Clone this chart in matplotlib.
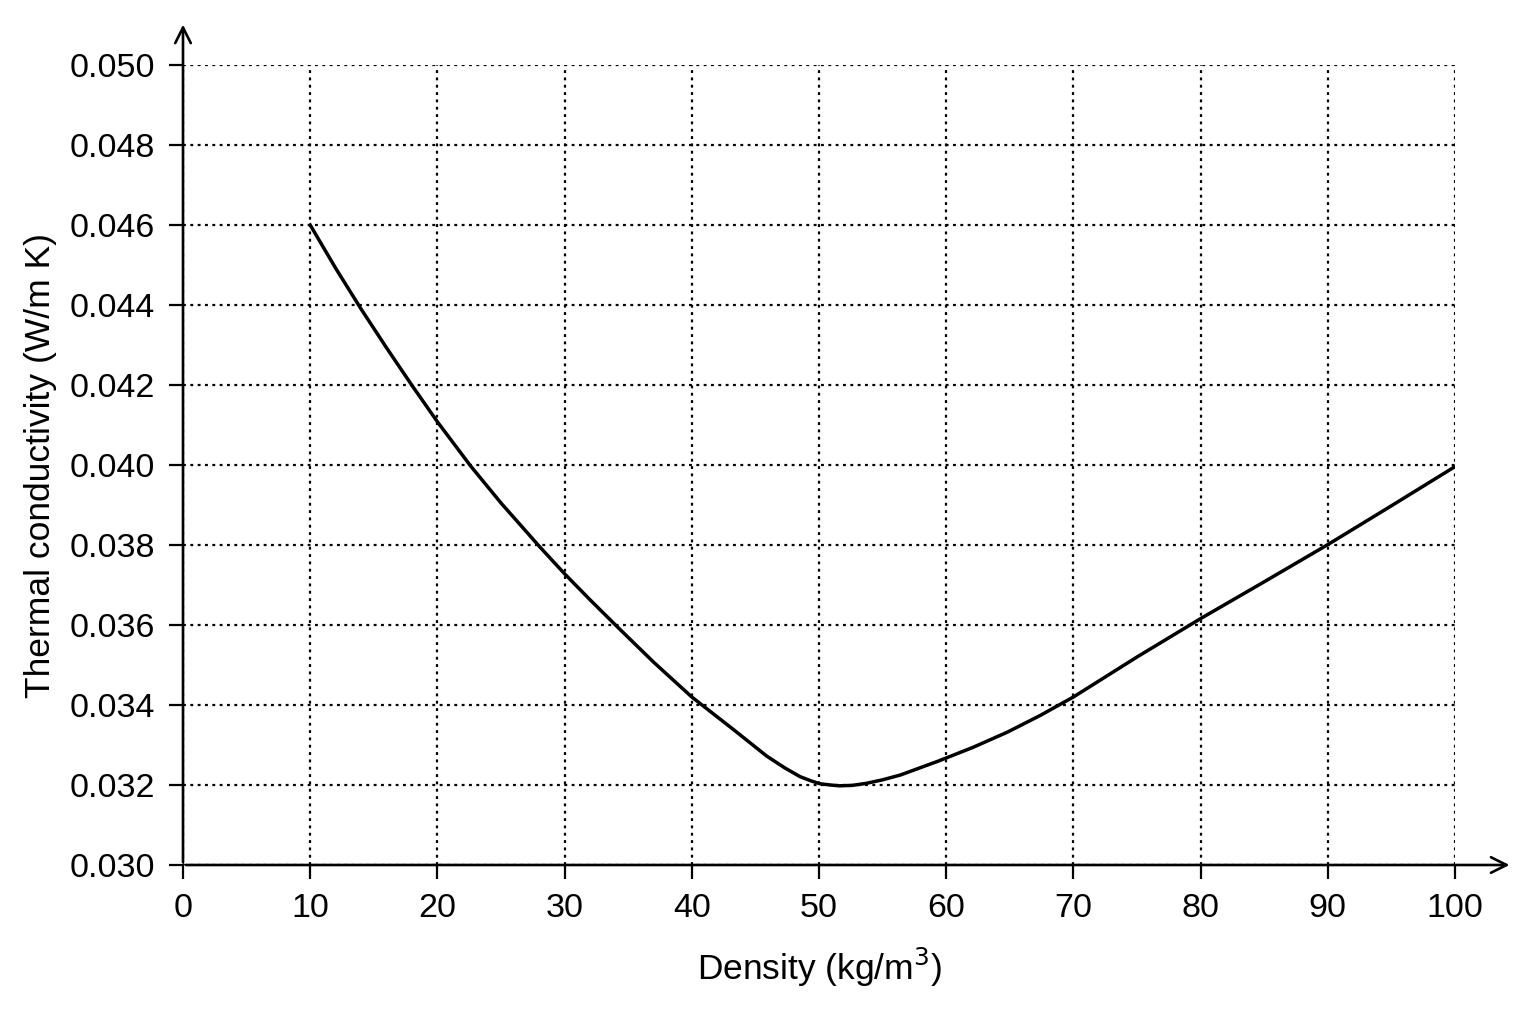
import matplotlib
matplotlib.use("Agg")
import matplotlib.pyplot as plt
from matplotlib import font_manager

# density (kg/m3) vs thermal conductivity (W/m K)
density = [10, 12, 14, 16, 18, 20, 22.6, 25, 28, 30, 32, 34, 37, 40, 43.3, 45.9, 47.3, 48.5, 49.4, 50.1,
           50.9, 51.6, 52.6, 53.7, 55, 56.4, 59.4, 62.1, 64.8, 67.4, 70, 75, 80, 85, 90, 95, 100]
conductivity = [0.04600, 0.04492, 0.04390, 0.04293, 0.04199, 0.04108, 0.03998, 0.03905, 0.03797, 0.03728,
                0.03663, 0.03600, 0.03507, 0.03420, 0.03338, 0.03272, 0.03243, 0.03221, 0.03210, 0.03203,
                0.03200, 0.03198, 0.03199, 0.03204, 0.03213, 0.03225, 0.03260, 0.03294, 0.03332, 0.03374,
                0.03420, 0.03520, 0.03616, 0.03708, 0.03801, 0.03898, 0.03996]
xticks = list(range(0, 101, 10))
yticks = [0.030, 0.032, 0.034, 0.036, 0.038, 0.040, 0.042, 0.044, 0.046, 0.048, 0.050]

names = {f.name for f in font_manager.fontManager.ttflist}
fam = "Liberation Sans Narrow" if "Liberation Sans Narrow" in names else "Liberation Sans"
plt.rcParams["font.family"] = [fam, "DejaVu Sans"]

W, H = 1536, 1024
fig = plt.figure(figsize=(W / 100, H / 100), dpi=100)
x0, x1, y0, y1 = 183, 1455, 865, 65
ax = fig.add_axes([x0 / W, (H - y0) / H, (x1 - x0) / W, (y0 - y1) / H])

ax.plot(density, conductivity, color="black", lw=2.5, solid_joinstyle="round")
ax.set_xlim(0, 100)
ax.set_ylim(0.030, 0.050)
ax.set_xticks(xticks)
ax.set_yticks(yticks)
ax.set_yticklabels([f"{v:.3f}" for v in yticks])
ax.grid(True, color="black", linestyle=(0, (1.3, 2.0)), lw=1.6)
for s in ax.spines.values():
    s.set_visible(False)
ax.tick_params(direction="out", length=10, width=1.6, labelsize=24.5, pad=10, color="black")

# axis lines with arrows
ax.annotate("", xy=(1.045, 0), xytext=(0, 0), xycoords="axes fraction",
            arrowprops=dict(arrowstyle="->", lw=1.9, color="black", mutation_scale=28), annotation_clip=False)
ax.annotate("", xy=(0, 1.054), xytext=(0, 0), xycoords="axes fraction",
            arrowprops=dict(arrowstyle="->", lw=1.9, color="black", mutation_scale=28), annotation_clip=False)

ax.set_xlabel("Density (kg/m$^3$)", fontsize=25.5, labelpad=16)
ax.set_ylabel("Thermal conductivity (W/m K)", fontsize=25.5, labelpad=9)

fig.savefig("out.png", dpi=100, facecolor="white")
